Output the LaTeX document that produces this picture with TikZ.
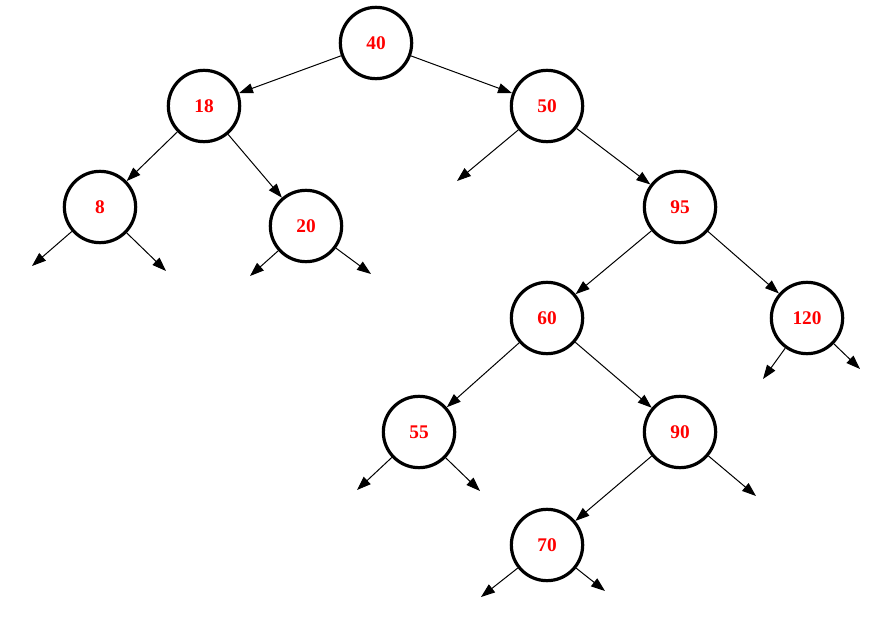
\documentclass[tikz,border=0pt]{standalone}
\usepackage{fontspec}
\setmainfont{Liberation Serif}
\usetikzlibrary{arrows.meta}
\begin{document}
\begin{tikzpicture}[x=0.75pt,y=-0.75pt,
  tnode/.style={circle,draw=black,line width=2.4pt,minimum size=53.5pt,inner sep=0pt,
    text=red,font=\fontsize{14.5}{17}\selectfont\bfseries},
  edge/.style={line width=0.75pt,-{Triangle[length=10.5pt,width=7.5pt]}}]
\useasboundingbox (0,0) rectangle (877,620);
\node[tnode] (n40) at (376,43) {40};
\node[tnode] (n18) at (204,106) {18};
\node[tnode] (n50) at (547,106) {50};
\node[tnode] (n8) at (100,207) {8};
\node[tnode] (n20) at (306,226) {20};
\node[tnode] (n95) at (680,207) {95};
\node[tnode] (n60) at (547,318) {60};
\node[tnode] (n120) at (807,318) {120};
\node[tnode] (n55) at (419,432) {55};
\node[tnode] (n90) at (680,432) {90};
\node[tnode] (n70) at (547,545) {70};
\coordinate (e50l) at (457,181);
\coordinate (e8l) at (32,266);
\coordinate (e8r) at (166,271);
\coordinate (e20l) at (250,276);
\coordinate (e20r) at (371,274);
\coordinate (e120l) at (763,379);
\coordinate (e120r) at (860,369);
\coordinate (e55l) at (357,490);
\coordinate (e55r) at (480,491);
\coordinate (e90r) at (756,496);
\coordinate (e70l) at (481,597);
\coordinate (e70r) at (605,591);
\draw[edge] (n40) -- (n18);
\draw[edge] (n40) -- (n50);
\draw[edge] (n18) -- (n8);
\draw[edge] (n18) -- (n20);
\draw[edge] (n50) -- (e50l);
\draw[edge] (n50) -- (n95);
\draw[edge] (n8) -- (e8l);
\draw[edge] (n8) -- (e8r);
\draw[edge] (n20) -- (e20l);
\draw[edge] (n20) -- (e20r);
\draw[edge] (n95) -- (n60);
\draw[edge] (n95) -- (n120);
\draw[edge] (n120) -- (e120l);
\draw[edge] (n120) -- (e120r);
\draw[edge] (n60) -- (n55);
\draw[edge] (n60) -- (n90);
\draw[edge] (n55) -- (e55l);
\draw[edge] (n55) -- (e55r);
\draw[edge] (n90) -- (n70);
\draw[edge] (n90) -- (e90r);
\draw[edge] (n70) -- (e70l);
\draw[edge] (n70) -- (e70r);
\end{tikzpicture}
\end{document}
